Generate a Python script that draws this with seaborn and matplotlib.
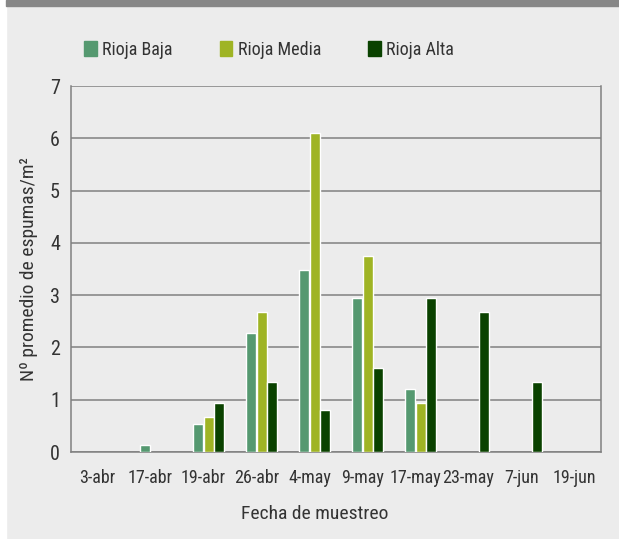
import numpy as np
import pandas as pd
import matplotlib.pyplot as plt
import matplotlib.patches as mpatches
import seaborn as sns

# ------- data -------
fechas = ["3-abr", "17-abr", "19-abr", "26-abr", "4-may",
          "9-may", "17-may", "23-may", "7-jun", "19-jun"]
rioja_baja = [0, 0.13, 0.54, 2.28, 3.48, 2.94, 1.20, 0, 0, 0]
rioja_media = [0, 0, 0.67, 2.68, 6.10, 3.75, 0.94, 0, 0, 0]
rioja_alta = [0, 0, 0.94, 1.34, 0.80, 1.60, 2.94, 2.68, 1.34, 0]
series_names = ["Rioja Baja", "Rioja Media", "Rioja Alta"]
colors = ["#559970", "#9fb424", "#0a4200"]
# ---------------------------------------

bg = "#ececec"
grid_col = "#808080"
text_col = "#333333"

# the original spreadsheet had an empty first series that shifts the groups
df = pd.DataFrame({
    "fecha": fechas * 4,
    "serie": [" "] * len(fechas) + [s for s in series_names for _ in fechas],
    "valor": [np.nan] * len(fechas) + rioja_baja + rioja_media + rioja_alta,
})
df.loc[df["valor"] == 0, "valor"] = np.nan

sns.set_theme(style="white")
plt.rcParams["font.family"] = ["Roboto Condensed", "DejaVu Sans"]

fig = plt.figure(figsize=(6.19, 5.39), dpi=100, facecolor=bg)
ax = fig.add_axes([71 / 619, 1 - 452 / 539, 530 / 619, 366 / 539])
ax.set_facecolor(bg)

palette = {" ": bg}
palette.update(dict(zip(series_names, colors)))
sns.barplot(data=df, x="fecha", y="valor", hue="serie",
            hue_order=[" "] + series_names, order=fechas,
            palette=palette, width=0.78, gap=0.06, saturation=1,
            legend=False, ax=ax, zorder=3)

ax.set_ylim(0, 7)
ax.set_xlim(-0.5, len(fechas) - 0.5)
ax.set_yticks(range(8))
ax.yaxis.grid(True, color=grid_col, linewidth=1.1, zorder=0)
ax.set_axisbelow(True)

for side in ["left", "right", "bottom"]:
    ax.spines[side].set_color(grid_col)
    ax.spines[side].set_linewidth(1.1)
ax.spines["top"].set_visible(False)

ax.set_xticks(np.arange(len(fechas)) + 0.5, minor=True)
ax.tick_params(axis="x", which="minor", direction="in", length=10,
               width=1, color=grid_col)
ax.tick_params(axis="x", which="major", length=0, pad=12,
               labelsize=13, labelcolor=text_col)
ax.tick_params(axis="y", length=0, pad=8, labelsize=14.5, labelcolor=text_col)

ax.set_xlabel("Fecha de muestreo", fontsize=14, color=text_col)
ax.set_ylabel("Nº promedio de espumas/m²", fontsize=14, color=text_col)
ax.xaxis.set_label_coords((315 - 71) / 530, -(505 - 452) / 366)
ax.yaxis.set_label_coords(-(71 - 38) / 530, 0.5)

handles = [mpatches.Patch(color=c, label=n) for c, n in zip(colors, series_names)]
fig.legend(handles=handles, loc="center left", ncol=3, frameon=False,
           bbox_to_anchor=(84 / 619, 1 - 50 / 539), fontsize=13,
           handlelength=0.7, handleheight=0.9, handletextpad=0.3,
           columnspacing=2.6, borderpad=0, borderaxespad=0, labelcolor=text_col)

# frame decorations of the original figure
fig.patches.append(mpatches.Rectangle((0, 0), 6 / 619, 1, transform=fig.transFigure,
                                      color="white", zorder=0))
fig.patches.append(mpatches.Rectangle((6 / 619, 1 - 6 / 539), 1, 6 / 539,
                                      transform=fig.transFigure,
                                      color="#878787", zorder=0))

fig.savefig("out.png", dpi=100, facecolor=bg)
